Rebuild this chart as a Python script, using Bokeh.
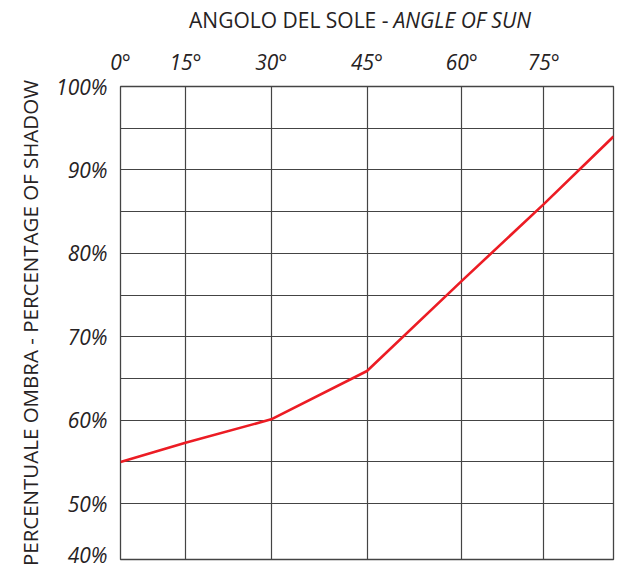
import numpy as np
from bokeh.plotting import figure
from bokeh.layouts import column
from bokeh.models import (Range1d, FixedTicker, CustomJSTickFormatter,
                          ColumnDataSource)
from bokeh.core.properties import value
from bokeh.embed import file_html
from bokeh.resources import INLINE

# ---- data ----
angles = [0, 15, 30, 45, 60, 75, 90]                 # degrees
shadow = [55.0, 57.3, 60.1, 65.9, 76.7, 85.9, 94.0]  # percent of shadow

# x-axis tick degrees and labels
tick_deg = [0, 15, 30, 45, 60, 75, 90]
tick_labels = ["0°", "15°", "30°", "45°", "60°", "75°", ""]
# y-axis
y_ticks = [50, 60, 70, 80, 90, 100]
y_labels = ["50%", "60%", "70%", "80%", "90%", "100%"]
y_bottom_label = "40%"
y_grid = [50, 55, 60, 65, 70, 75, 80, 85, 90, 95]

title_a = "ANGOLO DEL SOLE -"
title_b = "ANGLE OF SUN"
y_title = "PERCENTUALE OMBRA - PERCENTAGE OF SHADOW"

# ---- layout of the (non-uniform) angle scale: fraction of frame width ----
tick_frac = [0.0, 0.1318, 0.3057, 0.5, 0.6923, 0.8586, 1.0]
Y_MIN, Y_MAX = 43.3, 100.0

x_pos = np.interp(angles, tick_deg, tick_frac)

FONT = "Open Sans"
TXT = "#262223"
GRID = "#444444"
W = 619
TITLE_H = 40

x_range = Range1d(0, 1)

# ---- title strip (mixed upright / italic text) ----
t = figure(width=W, height=TITLE_H, output_backend="svg", toolbar_location=None,
           x_range=x_range, y_range=Range1d(0, TITLE_H),
           x_axis_type=None, y_axis_type=None, min_border=0)
t.outline_line_color = None
t.background_fill_color = "white"
t.border_fill_color = "white"
t.grid.visible = False
t.text(x=[0.5436], y=[TITLE_H - 19], text=[title_a], text_align="right",
       text_baseline="alphabetic", text_font=value(FONT), text_font_size="21px",
       text_color=TXT)
t.text(x=[0.5538], y=[TITLE_H - 19], text=[title_b], text_align="left",
       text_baseline="alphabetic", text_font=value(FONT), text_font_size="21px",
       text_font_style="italic", text_color=TXT)

# ---- main chart ----
p = figure(width=W, height=568 - TITLE_H, output_backend="svg", toolbar_location=None,
           x_range=x_range, y_range=Range1d(Y_MIN, Y_MAX),
           x_axis_location="above",
           min_border_left=120, min_border_right=6, min_border_top=86 - TITLE_H,
           min_border_bottom=9)
p.background_fill_color = "white"
p.border_fill_color = "white"
p.outline_line_color = GRID
p.outline_line_width = 1.3

# grids
p.xgrid.ticker = FixedTicker(ticks=tick_frac[1:-1])
p.ygrid.ticker = FixedTicker(ticks=y_grid)
for g in (p.xgrid, p.ygrid):
    g.grid_line_color = GRID
    g.grid_line_width = 1.2
    g.grid_line_alpha = 1.0

# x axis (top)
xa = p.xaxis[0]
xa.ticker = FixedTicker(ticks=tick_frac[:-1])
xa.formatter = CustomJSTickFormatter(
    args=dict(pos=tick_frac, lab=tick_labels),
    code="const i = pos.findIndex(v => Math.abs(v - tick) < 1e-6); return i >= 0 ? lab[i] : '';")
xa.major_label_text_font = FONT
xa.major_label_text_font_style = "italic"
xa.major_label_text_font_size = "21px"
xa.major_label_text_color = TXT
xa.major_label_standoff = 5
xa.axis_line_color = None
xa.major_tick_line_color = None
xa.minor_tick_line_color = None

# y axis (left)
ya = p.yaxis[0]
yt_all = [Y_MIN] + y_ticks
yl_all = [y_bottom_label] + y_labels
ya.ticker = FixedTicker(ticks=yt_all)
ya.formatter = CustomJSTickFormatter(
    args=dict(pos=yt_all, lab=yl_all),
    code="const i = pos.findIndex(v => Math.abs(v - tick) < 1e-6); return i >= 0 ? lab[i] : '';")
ya.major_label_text_font = FONT
ya.major_label_text_font_style = "italic"
ya.major_label_text_font_size = "21px"
ya.major_label_text_color = TXT
ya.major_label_standoff = 7
ya.axis_line_color = None
ya.major_tick_line_color = None
ya.minor_tick_line_color = None
ya.axis_label = y_title
ya.axis_label_text_font = FONT
ya.axis_label_text_font_style = "normal"
ya.axis_label_text_font_size = "20.5px"
ya.axis_label_text_color = TXT
ya.axis_label_standoff = 9

# data line
src = ColumnDataSource(dict(x=x_pos, y=shadow))
p.line("x", "y", source=src, line_color="#EC1C24", line_width=2.6)

layout = column(t, p, spacing=0)
open("out.html", "w").write(file_html(layout, INLINE))
